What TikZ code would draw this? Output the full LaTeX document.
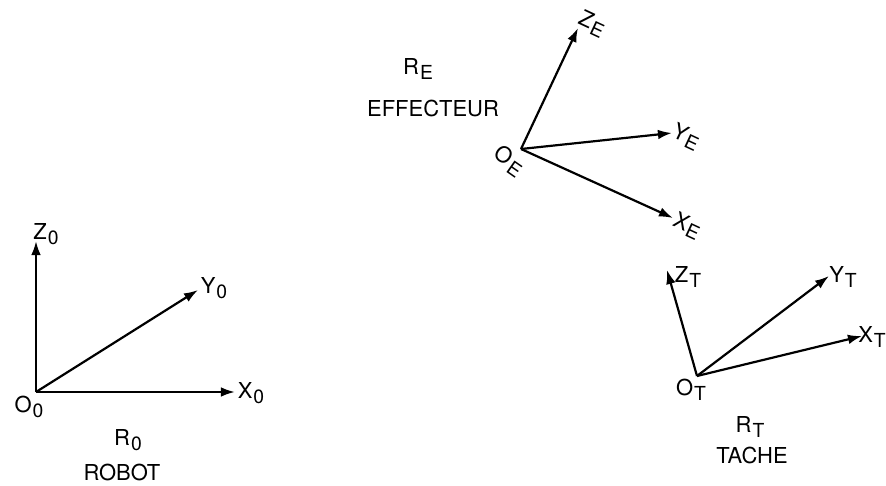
\documentclass[tikz,border=0pt]{standalone}
\usepackage{fontspec}
\setmainfont{TeX Gyre Heros}
\usetikzlibrary{arrows.meta}
\newcommand{\idx}[1]{\kern0.6pt\raisebox{-0.4ex}{\fontsize{11}{13}\selectfont #1}}

\begin{document}
\begin{tikzpicture}[x=0.02cm, y=-0.02cm,
    every node/.style={font=\fontsize{12.5}{14}\selectfont, inner sep=0.5pt},
    axis/.style={-{Latex[length=8pt, width=5.5pt]}, line width=1.25pt}
]
\useasboundingbox (0,0) rectangle (886,486);

% repere robot
\coordinate (O0) at (36,392);
\coordinate (Z0) at (36,241);
\coordinate (Y0) at (198,290);
\coordinate (X0) at (235,392);
\draw[axis] (O0) -- (Z0);
\draw[axis] (O0) -- (Y0);
\draw[axis] (O0) -- (X0);
\node (lz0) at (46,234) {Z\idx{0}};
\node (ly0) at (214,288) {Y\idx{0}};
\node (lx0) at (251,393) {X\idx{0}};
\node (lo0) at (29,407) {O\idx{0}};
\node (lr0) at (128,440) {R\idx{0}};
\node (rob) at (122,472) {ROBOT};

% repere effecteur
\coordinate (OE) at (521,149);
\coordinate (ZE) at (578,28);
\coordinate (YE) at (672,133);
\coordinate (XE) at (673,218);
\draw[axis] (OE) -- (ZE);
\draw[axis] (OE) -- (YE);
\draw[axis] (OE) -- (XE);
\node[rotate=-25] (lze) at (592,24) {Z\idx{E}};
\node[rotate=-25] (lye) at (686,137) {Y\idx{E}};
\node[rotate=-25] (lxe) at (687,226) {X\idx{E}};
\node[rotate=-35] (loe) at (509,161) {O\idx{E}};
\node (lre) at (418,69) {R\idx{E}};
\node (eff) at (433,108) {EFFECTEUR};

% repere tache
\coordinate (OT) at (697,376);
\coordinate (ZT) at (667,270);
\coordinate (YT) at (829,276);
\coordinate (XT) at (862,336);
\draw[axis] (OT) -- (ZT);
\draw[axis] (OT) -- (YT);
\draw[axis] (OT) -- (XT);
\node (lzt) at (688,277) {Z\idx{T}};
\node (lyt) at (843,277) {Y\idx{T}};
\node (lxt) at (872,337) {X\idx{T}};
\node (lot) at (691,390) {O\idx{T}};
\node (lrt) at (750,427) {R\idx{T}};
\node (tac) at (752,455) {TACHE};
\end{tikzpicture}
\end{document}
